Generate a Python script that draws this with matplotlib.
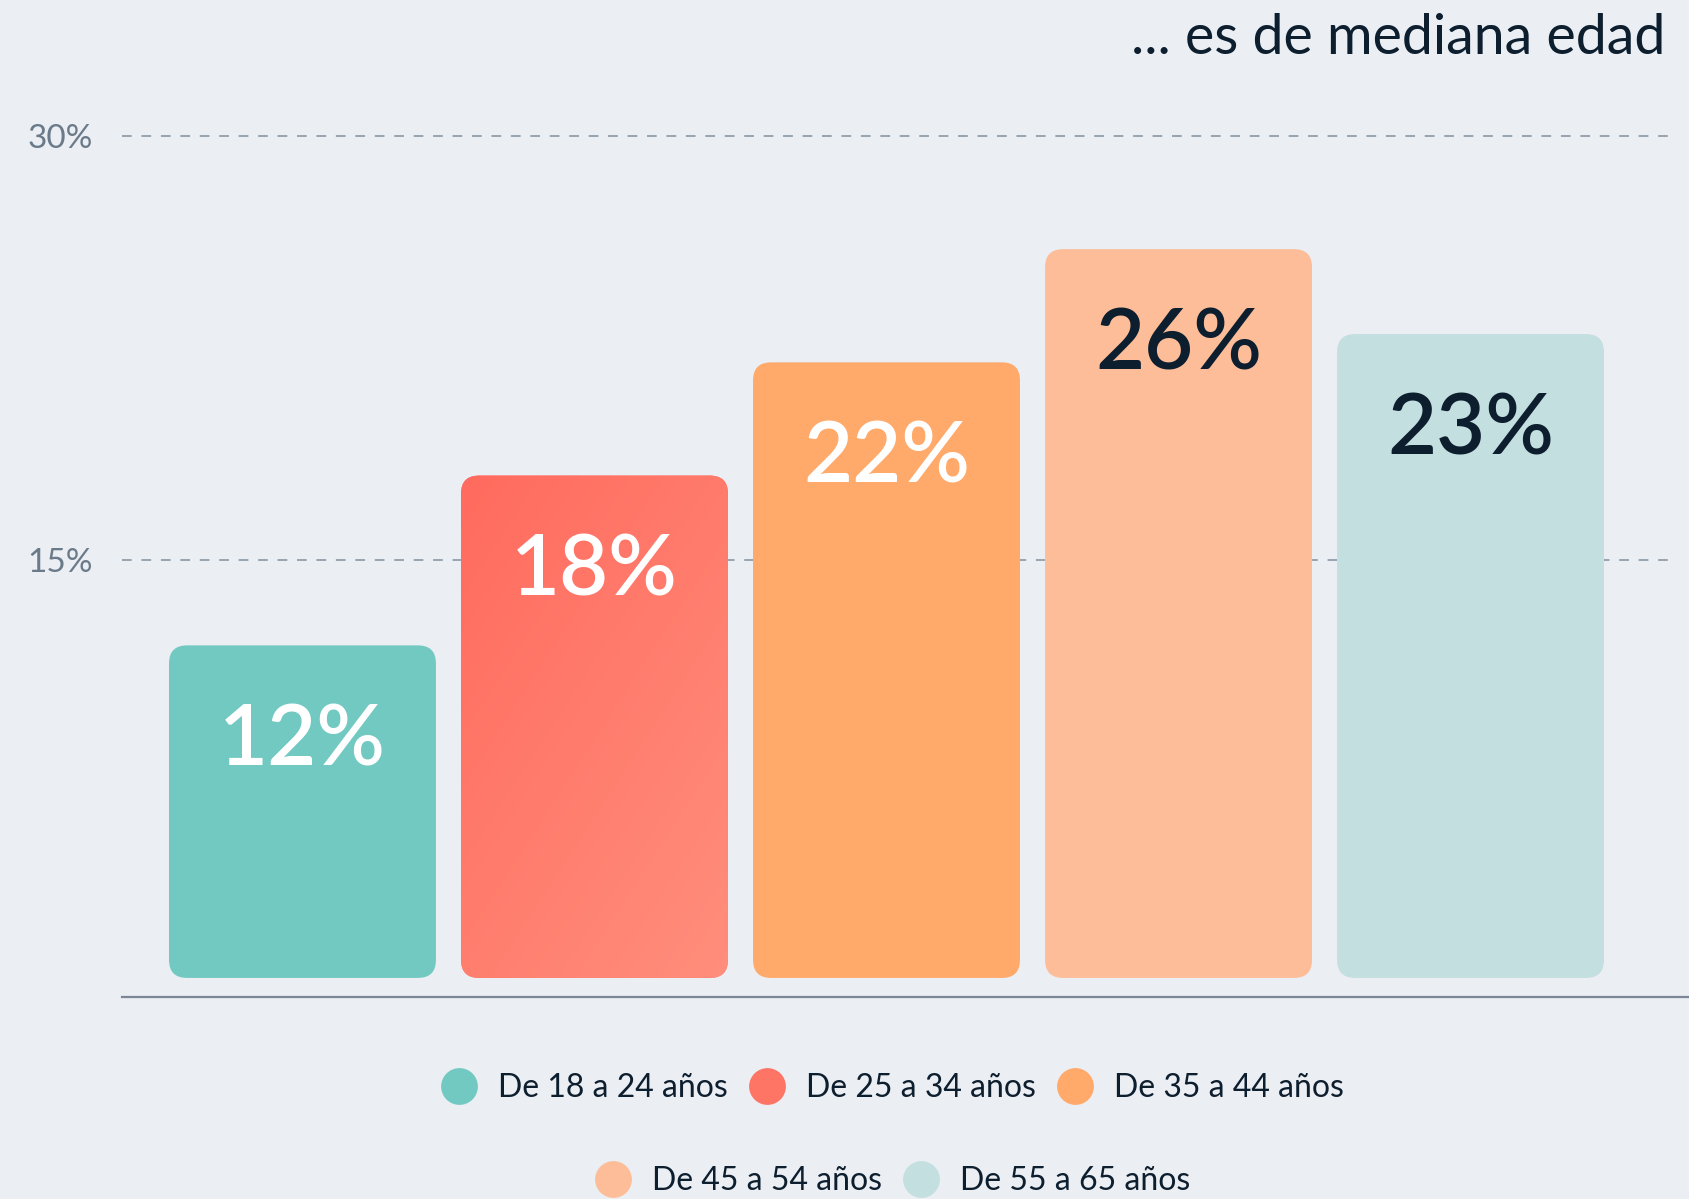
import numpy as np
import matplotlib
matplotlib.use("Agg")
import matplotlib.pyplot as plt
from matplotlib.patches import FancyBboxPatch
from matplotlib.lines import Line2D
from matplotlib.colors import to_rgb

# ---------------------------------------------------------------------------
# Data
# ---------------------------------------------------------------------------
groups = ["De 18 a 24 años", "De 25 a 34 años", "De 35 a 44 años",
          "De 45 a 54 años", "De 55 a 65 años"]
values = [12, 18, 22, 26, 23]
labels = ["12%", "18%", "22%", "26%", "23%"]
yticks = [15, 30]
ytick_labels = ["15%", "30%"]
title = "... es de mediana edad"

# ---------------------------------------------------------------------------
# Style
# ---------------------------------------------------------------------------
BG = "#EBEEF3"
NAVY = "#0D1E2E"
colors = ["#72C9C2", "#FF7565", "#FFA96A", "#FDBD99", "#C4DFDF"]
red_grad = ("#FF6B5E", "#FF8E7C")      # top-left -> bottom-right on bar 2
label_colors = ["white", "white", "white", NAVY, NAVY]

plt.rcParams["font.family"] = ["Lato", "DejaVu Sans"]

W, H = 1689, 1199
fig = plt.figure(figsize=(W / 100, H / 100), dpi=100, facecolor=BG)
ax = fig.add_axes([122 / W, 1 - 997 / H, 1 - 122 / W, (997 - 100) / H])
ax.set_facecolor(BG)

x_left, x_right = -0.618, 4.748
y_bot, y_top = -0.424, 31.27
ax.set_xlim(x_left, x_right)
ax.set_ylim(y_bot, y_top)

# pixels per data unit -> keep corner rounding circular
px_x = (W - 122) / (x_right - x_left)
px_y = (997 - 100) / (y_top - y_bot)
bar_w = 0.914
bar_gap = 0.25          # bars float a little above the baseline
r_px = 18
rs = r_px / px_x

# dashed gridlines
for yv in yticks:
    ax.axhline(yv, xmin=0, xmax=0.992, color="#97A3B0", lw=1.4,
               dashes=(5, 5), zorder=0)

for i, (v, c) in enumerate(zip(values, colors)):
    x0 = i - bar_w / 2
    patch = FancyBboxPatch((x0, bar_gap), bar_w, v - bar_gap,
                           boxstyle=f"round,pad=0,rounding_size={rs}",
                           mutation_aspect=px_x / px_y,
                           fc=c, ec="none", zorder=2)
    ax.add_patch(patch)
    if i == 1:
        # diagonal gradient for the coral bar
        n = 200
        gx, gy = np.meshgrid(np.linspace(0, 1, n), np.linspace(0, 1, n))
        t = (gx * 0.45 + gy * 0.55)[..., None]
        c0, c1 = np.array(to_rgb(red_grad[0])), np.array(to_rgb(red_grad[1]))
        img = c0 * (1 - t) + c1 * t
        im = ax.imshow(img, extent=(x0, x0 + bar_w, bar_gap, v), aspect="auto",
                       origin="upper", zorder=2.1, interpolation="bilinear")
        im.set_clip_path(patch)
    ax.text(i, v - 4.25, labels[i], ha="center", va="baseline",
            fontsize=61, fontweight="semibold", color=label_colors[i], zorder=3)

ax.set_xlim(x_left, x_right)
ax.set_ylim(y_bot, y_top)

# axes cosmetics
for s in ["top", "right", "left"]:
    ax.spines[s].set_visible(False)
ax.spines["bottom"].set_color("#7B8794")
ax.spines["bottom"].set_linewidth(1.6)
ax.set_xticks([])
ax.set_yticks(yticks)
ax.set_yticklabels(ytick_labels, fontsize=24, color="#6B7A89",
                   fontweight="normal", ha="left")
ax.tick_params(axis="y", length=0, pad=68)

fig.text(1665 / W, 1 - 54 / H, title, ha="right", va="baseline",
         fontsize=40, color=NAVY)

# legend: centred rows of 3 + 2
handles = [Line2D([], [], marker="o", ls="none", ms=26.5, mfc=c, mec="none")
           for c in colors]
common = dict(loc="center", frameon=False, fontsize=23, handlelength=1.2,
              handletextpad=0.62, columnspacing=0.62, labelcolor=NAVY)
fig.legend(handles[:3], groups[:3], ncol=3,
           bbox_to_anchor=(892 / W, 1 - 1088 / H), **common)
fig.legend(handles[3:], groups[3:], ncol=2,
           bbox_to_anchor=(892 / W, 1 - 1181 / H), **common)

fig.savefig("out.png", dpi=100, facecolor=BG)
